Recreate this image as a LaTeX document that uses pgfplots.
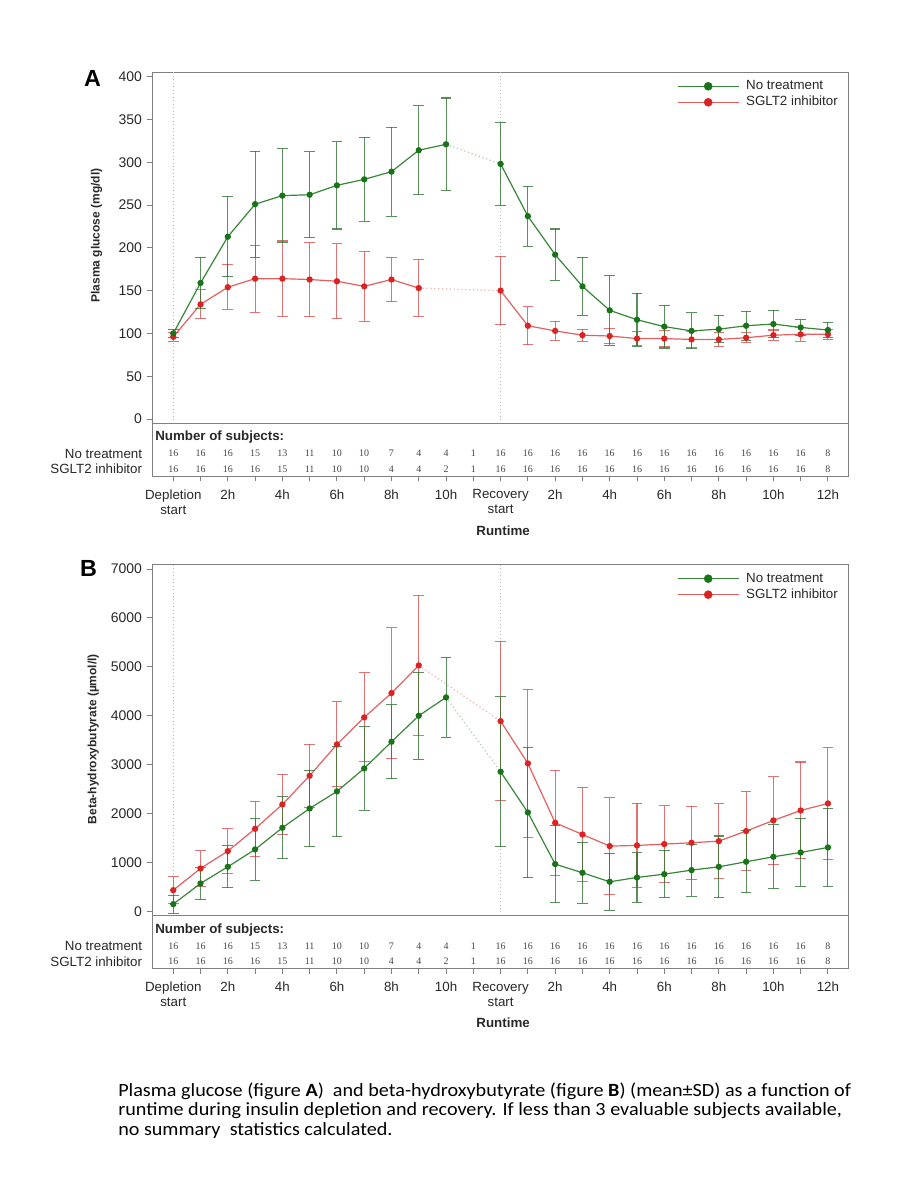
\documentclass[border=0pt]{standalone}
\usepackage{pgfplots}
\pgfplotsset{compat=1.18}
\usepackage{pgfplotstable}
\usepackage{fontspec}
\setmainfont{Liberation Sans}
\newfontfamily\numfont{Liberation Serif}
\newfontfamily\capfont[FakeStretch=1.08]{Carlito}

\definecolor{gline}{RGB}{55,135,55}
\definecolor{gmark}{RGB}{25,115,25}
\definecolor{gerr}{RGB}{50,115,50}
\definecolor{rline}{RGB}{228,95,95}
\definecolor{rmark}{RGB}{220,35,35}
\definecolor{rerr}{RGB}{212,80,80}
\definecolor{gdot}{RGB}{175,205,175}
\definecolor{rdot}{RGB}{240,175,175}
\definecolor{framec}{RGB}{128,128,128}
\definecolor{txt}{RGB}{40,40,40}
\definecolor{numc}{RGB}{70,70,70}

% ---------- Figure A: plasma glucose ----------
\pgfplotstableread{
x y e
0 100 5
1 159 30
2 213 47
3 251 62
4 261 55
5 262 50
6 273 51
7 280 49
8 289 52
9 314 52
10 321 54
}\AgDep
\pgfplotstableread{
x y e
12 298 48
13 237 35
14 192 30
15 155 34
16 127 41
17 116 31
18 108 25
19 103 21
20 105 16
21 109 17
22 111 16
23 107 9
24 104 9
}\AgRec
\pgfplotstableread{
x y e
0 96 5
1 134 17
2 154 26
3 164 39
4 164 44
5 163 43
6 161 44
7 155 41
8 163 26
9 153 33
}\ArDep
\pgfplotstableread{
x y e
12 150 40
13 109 22
14 103 11
15 98 7
16 97 9
17 94 8
18 94 9
19 93 9
20 93 8
21 95 6
22 98 6
23 99 8
24 99 6
}\ArRec

% ---------- Figure B: beta-hydroxybutyrate ----------
\pgfplotstableread{
x y e
0 150 185
1 573 320
2 913 430
3 1268 630
4 1711 635
5 2106 784
6 2454 927
7 2924 855
8 3469 760
9 4001 890
10 4376 818
}\BgDep
\pgfplotstableread{
x y e
12 2856 1537
13 2024 1332
14 968 790
15 791 624
16 607 580
17 695 510
18 763 485
19 845 531
20 913 630
21 1016 634
22 1118 655
23 1206 690
24 1309 800
}\BgRec
\pgfplotstableread{
x y e
0 436 273
1 879 360
2 1234 460
3 1690 560
4 2188 612
5 2774 640
6 3415 870
7 3967 910
8 4464 1336
9 5030 1432
}\BrDep
\pgfplotstableread{
x y e
12 3890 1630
13 3026 1515
14 1813 1070
15 1574 955
16 1336 988
17 1350 858
18 1377 787
19 1404 750
20 1438 767
21 1643 810
22 1861 893
23 2065 990
24 2208 1145
}\BrRec

% ---------- Number of subjects ----------
\pgfplotstableread{
x r1 n1 r2 n2
0 22.7 16 7.3 16
1 22.7 16 7.3 16
2 22.7 16 7.3 16
3 22.7 15 7.3 16
4 22.7 13 7.3 15
5 22.7 11 7.3 11
6 22.7 10 7.3 10
7 22.7 10 7.3 10
8 22.7 7 7.3 4
9 22.7 4 7.3 4
10 22.7 4 7.3 2
11 22.7 1 7.3 1
12 22.7 16 7.3 16
13 22.7 16 7.3 16
14 22.7 16 7.3 16
15 22.7 16 7.3 16
16 22.7 16 7.3 16
17 22.7 16 7.3 16
18 22.7 16 7.3 16
19 22.7 16 7.3 16
20 22.7 16 7.3 16
21 22.7 16 7.3 16
22 22.7 16 7.3 16
23 22.7 16 7.3 16
24 22.7 8 7.3 8
}\Counts

\pgfplotsset{
  mainax/.style={
    scale only axis, width=521.7pt, height=263.25pt,
    xmin=-0.755, xmax=24.745,
    xtick=\empty,
    tick align=outside, tick pos=left,
    axis line style={draw=framec, line width=0.9pt},
    major tick length=4.5pt,
    every tick/.style={draw=framec, line width=0.7pt},
    yticklabel style={font=\fontsize{10.5}{12}\selectfont, text=txt},
    /pgf/number format/assume math mode=true,
    /pgf/number format/1000 sep={},
    legend style={draw=none, fill=none, inner sep=0pt,
      at={(axis description cs:0.7533,1)}, anchor=north west, yshift=-5pt,
      font=\fontsize{10}{12}\selectfont, text=txt,
      nodes={inner sep=0pt, text height=8pt, text depth=2.5pt},
      row sep=1.5pt,
      /tikz/every odd column/.append style={column sep=5pt}},
    legend cell align=left,
  },
  tabax/.style={
    scale only axis, width=521.7pt, height=39.75pt,
    xmin=-0.755, xmax=24.745, ymin=0, ymax=53,
    clip=false,
    xtick={0,...,24},
    xticklabels={{Depletion\\start},,2h,,4h,,6h,,8h,,10h,,{Recovery\\start},,2h,,4h,,6h,,8h,,10h,,12h},
    tick align=outside, tick pos=left,
    major tick length=3.75pt,
    ytick={7.3,22.7}, yticklabels={SGLT2 inhibitor,No treatment},
    ytick style={draw=none},
    xtick style={draw=framec, line width=0.7pt},
    axis line style={draw=framec, line width=0.9pt},
    xticklabel style={align=center, font=\fontsize{10}{11.25}\selectfont, text=txt, inner sep=0pt, yshift=-6pt},
    yticklabel style={font=\fontsize{10}{12}\selectfont, text=txt, inner sep=0pt, xshift=-4pt},
    xlabel={Runtime},
    every axis x label/.style={at={(axis description cs:0.5,0)}, anchor=center, yshift=-40.5pt, xshift=2pt, font=\bfseries\fontsize{10}{12}\selectfont, text=txt},
  },
  cnt/.style={only marks, mark=text, text mark={},
    scatter/use mapped color={draw=none, fill=none},
    nodes near coords, point meta=explicit symbolic, nodes near coords align={center},
    every node near coord/.style={font=\numfont\fontsize{7.5}{8}\selectfont, text=numc, inner sep=0pt, anchor=center}},
  gser/.style={gline, line width=0.9pt, mark=*, mark size=1.9pt, mark options={fill=gmark, draw=gmark},
    error bars/y dir=both, error bars/y explicit,
    error bars/error bar style={gerr, line width=0.8pt, opacity=0.8},
    error bars/error mark options={rotate=90, gerr, mark size=4pt, line width=0.8pt, opacity=0.8}},
  rser/.style={rline, line width=0.9pt, mark=*, mark size=1.9pt, mark options={fill=rmark, draw=rmark},
    error bars/y dir=both, error bars/y explicit,
    error bars/error bar style={rerr, line width=0.8pt, opacity=0.8},
    error bars/error mark options={rotate=90, rerr, mark size=4pt, line width=0.8pt, opacity=0.8}},
}

\begin{document}
\begin{tikzpicture}
\path[use as bounding box] (0pt,0pt) rectangle (675pt,-900pt);

% ===== A main =====
\begin{axis}[mainax, at={(114.5pt,-317.5pt)}, anchor=south west,
  ymin=-5, ymax=405, ytick={0,50,...,400},
  ylabel={Plasma glucose (mg/dl)},
  every axis y label/.style={at={(axis description cs:-0.0805,0.535)}, rotate=90, anchor=center, font=\bfseries\fontsize{9}{10}\selectfont, text=txt}]
\addplot[gray!55, dotted, line width=0.6pt, forget plot] coordinates {(0,-5) (0,405)};
\addplot[gray!55, dotted, line width=0.6pt, forget plot] coordinates {(12,-5) (12,405)};
\addplot[gdot, dotted, line width=0.9pt, forget plot] coordinates {(10,321) (12,298)};
\addplot[rdot, dotted, line width=0.9pt, forget plot] coordinates {(9,153) (12,150)};
\addplot[rser, forget plot] table[x=x, y=y, y error=e] {\ArDep};
\addplot[rser, forget plot] table[x=x, y=y, y error=e] {\ArRec};
\addplot[gser, forget plot] table[x=x, y=y, y error=e] {\AgDep};
\addplot[gser, forget plot] table[x=x, y=y, y error=e] {\AgRec};
\addlegendimage{legend image code/.code={\draw[gline, line width=0.9pt] (0pt,0pt) -- (46pt,0pt); \fill[gmark] (23pt,0pt) circle (3pt);}}
\addlegendentry{No treatment}
\addlegendimage{legend image code/.code={\draw[rline, line width=0.9pt] (0pt,0pt) -- (46pt,0pt); \fill[rmark] (23pt,0pt) circle (3pt);}}
\addlegendentry{SGLT2 inhibitor}
\end{axis}

% ===== A table =====
\begin{axis}[tabax, at={(114.5pt,-317.5pt)}, anchor=north west]
\addplot[cnt] table[x=x, y=r1, meta=n1] {\Counts};
\addplot[cnt] table[x=x, y=r2, meta=n2] {\Counts};
\node[anchor=west, inner sep=0pt, font=\bfseries\fontsize{10}{12}\selectfont, text=txt] at (axis cs:-0.67,39) {Number of subjects:};
\end{axis}

% ===== B main =====
\begin{axis}[mainax, at={(114.5pt,-686.8pt)}, anchor=south west,
  ymin=-87.5, ymax=7087.5, ytick={0,1000,...,7000},
  ylabel={Beta-hydroxybutyrate (µmol/l)},
  every axis y label/.style={at={(axis description cs:-0.0854,0.503)}, rotate=90, anchor=center, font=\bfseries\fontsize{9}{10}\selectfont, text=txt}]
\addplot[gray!55, dotted, line width=0.6pt, forget plot] coordinates {(0,-87.5) (0,7087.5)};
\addplot[gray!55, dotted, line width=0.6pt, forget plot] coordinates {(12,-87.5) (12,7087.5)};
\addplot[gdot, dotted, line width=0.9pt, forget plot] coordinates {(10,4376) (12,2856)};
\addplot[rdot, dotted, line width=0.9pt, forget plot] coordinates {(9,5030) (12,3890)};
\addplot[rser, forget plot] table[x=x, y=y, y error=e] {\BrDep};
\addplot[rser, forget plot] table[x=x, y=y, y error=e] {\BrRec};
\addplot[gser, forget plot] table[x=x, y=y, y error=e] {\BgDep};
\addplot[gser, forget plot] table[x=x, y=y, y error=e] {\BgRec};
\addlegendimage{legend image code/.code={\draw[gline, line width=0.9pt] (0pt,0pt) -- (46pt,0pt); \fill[gmark] (23pt,0pt) circle (3pt);}}
\addlegendentry{No treatment}
\addlegendimage{legend image code/.code={\draw[rline, line width=0.9pt] (0pt,0pt) -- (46pt,0pt); \fill[rmark] (23pt,0pt) circle (3pt);}}
\addlegendentry{SGLT2 inhibitor}
\end{axis}

% ===== B table =====
\begin{axis}[tabax, at={(114.5pt,-686.8pt)}, anchor=north west]
\addplot[cnt] table[x=x, y=r1, meta=n1] {\Counts};
\addplot[cnt] table[x=x, y=r2, meta=n2] {\Counts};
\node[anchor=west, inner sep=0pt, font=\bfseries\fontsize{10}{12}\selectfont, text=txt] at (axis cs:-0.67,39) {Number of subjects:};
\end{axis}

% panel letters
\node[font=\bfseries\fontsize{17.5}{20}\selectfont, inner sep=0pt] at (69.4pt,-58.8pt) {A};
\node[font=\bfseries\fontsize{17.5}{20}\selectfont, inner sep=0pt] at (66.4pt,-426.4pt) {B};

% caption
\node[anchor=base west, inner sep=0pt, font=\capfont\fontsize{14}{15}\selectfont] at (88.5pt,-822.5pt) {Plasma glucose (figure \textbf{A})\ \ and beta-hydroxybutyrate (figure \textbf{B}) (mean±SD) as a function of};
\node[anchor=base west, inner sep=0pt, font=\capfont\fontsize{14}{15}\selectfont] at (88.5pt,-836.8pt) {runtime during insulin depletion and recovery. If less than 3 evaluable subjects available,};
\node[anchor=base west, inner sep=0pt, font=\capfont\fontsize{14}{15}\selectfont] at (88.5pt,-851.8pt) {no summary\ \ statistics calculated.};
\end{tikzpicture}
\end{document}
